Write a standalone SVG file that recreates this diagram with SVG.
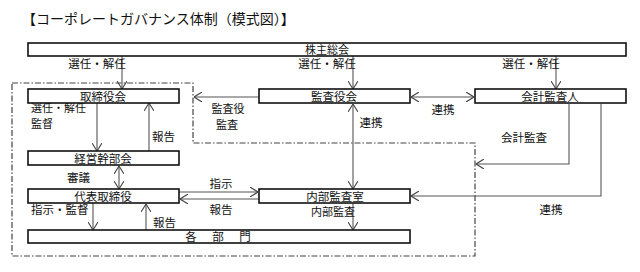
<svg xmlns="http://www.w3.org/2000/svg" width="640" height="272" viewBox="0 0 640 272">
<style>
text{font-family:"Noto Sans CJK JP","Noto Sans",sans-serif;font-size:11.5px;fill:#111}
.c{text-anchor:middle}
.s{font-size:11px}
.title{font-size:14px}
.box{fill:#fff;stroke:#111;stroke-width:1.6}
.ln{fill:none;stroke:#555;stroke-width:1.1}
.dash{fill:none;stroke:#444;stroke-width:1.2;stroke-dasharray:6,2,1.5,2}
</style>
<defs>
<marker id="arr" viewBox="0 0 8 10" refX="8" refY="5" markerWidth="8" markerHeight="10" markerUnits="userSpaceOnUse" orient="auto-start-reverse">
<path d="M0,0 L8,5 L0,10" fill="none" stroke="#444" stroke-width="1.1"/>
</marker>
</defs>
<rect width="640" height="272" fill="#fff"/>
<text class="title" x="22" y="24">【コーポレートガバナンス体制（模式図）】</text>
<polygon class="dash" points="12,83 193,83 193,143 475,143 475,256 12,256"/>
<g id="connectors">
<line class="ln" x1="122" y1="56" x2="122" y2="89" marker-end="url(#arr)"/>
<line class="ln" x1="353" y1="56" x2="353" y2="89" marker-end="url(#arr)"/>
<line class="ln" x1="556" y1="56" x2="556" y2="89" marker-end="url(#arr)"/>
<line class="ln" x1="259" y1="97" x2="194" y2="97" marker-end="url(#arr)"/>
<line class="ln" x1="411" y1="97" x2="474" y2="97" marker-start="url(#arr)" marker-end="url(#arr)"/>
<line class="ln" x1="353" y1="104" x2="353" y2="189" marker-start="url(#arr)" marker-end="url(#arr)"/>
<polyline class="ln" points="569,104 569,164 476,164" marker-end="url(#arr)"/>
<polyline class="ln" points="601,104 601,196 411,196" marker-end="url(#arr)"/>
<line class="ln" x1="97" y1="103" x2="97" y2="151" marker-end="url(#arr)"/>
<line class="ln" x1="149" y1="151" x2="149" y2="103" marker-end="url(#arr)"/>
<line class="ln" x1="119" y1="166" x2="119" y2="189" marker-start="url(#arr)" marker-end="url(#arr)"/>
<line class="ln" x1="179" y1="192" x2="258" y2="192" marker-end="url(#arr)"/>
<line class="ln" x1="259" y1="199" x2="180" y2="199" marker-end="url(#arr)"/>
<line class="ln" x1="353" y1="203" x2="353" y2="230" marker-end="url(#arr)"/>
<line class="ln" x1="93" y1="203" x2="93" y2="230" marker-end="url(#arr)"/>
<line class="ln" x1="146" y1="230" x2="146" y2="204" marker-end="url(#arr)"/>
<text class="c" x="97" y="68">選任・解任</text>
<text class="c" x="327" y="68">選任・解任</text>
<text class="c" x="531" y="68">選任・解任</text>
<text class="c s" x="228" y="113">監査役</text>
<text class="c s" x="227" y="129">監査</text>
<text class="c" x="443" y="114">連携</text>
<text class="c" x="371" y="127">連携</text>
<text class="c" x="524" y="142">会計監査</text>
<text class="c" x="551" y="214">連携</text>
<text class="s" x="31" y="112">選任・解任</text>
<text class="s" x="31" y="128">監督</text>
<text x="152" y="141">報告</text>
<text x="67" y="182">審議</text>
<text class="c" x="221" y="188">指示</text>
<text class="c" x="221" y="214">報告</text>
<text class="c s" x="333" y="216">内部監査</text>
<text x="31" y="214">指示・監督</text>
<text x="153" y="227">報告</text>
</g>
<g id="kabunushi"><rect class="box" x="28" y="43" width="598" height="13"/><text class="c" x="327" y="53.5" style="font-size:11px">株主総会</text></g>
<g id="torishimariyakukai"><rect class="box" x="28" y="89" width="151" height="14"/><text class="c" x="103" y="100.5">取締役会</text></g>
<g id="kansayakukai"><rect class="box" x="259" y="89" width="151" height="14"/><text class="c" x="334" y="100.5">監査役会</text></g>
<g id="kaikeikansanin"><rect class="box" x="475" y="89" width="151" height="14"/><text class="c" x="550" y="100.5">会計監査人</text></g>
<g id="keieikanbukai"><rect class="box" x="28" y="151" width="151" height="14"/><text class="c" x="103" y="162.5">経営幹部会</text></g>
<g id="daihyo"><rect class="box" x="28" y="189" width="151" height="14"/><text class="c" x="103" y="200.5">代表取締役</text></g>
<g id="naibukansa"><rect class="box" x="259" y="189" width="151" height="14"/><text class="c" x="335" y="200.5">内部監査室</text></g>
<g id="kakubumon"><rect class="box" x="28" y="230" width="382" height="13"/><text class="c" x="219" y="241" style="letter-spacing:2px">各　部　門</text></g>
</svg>
